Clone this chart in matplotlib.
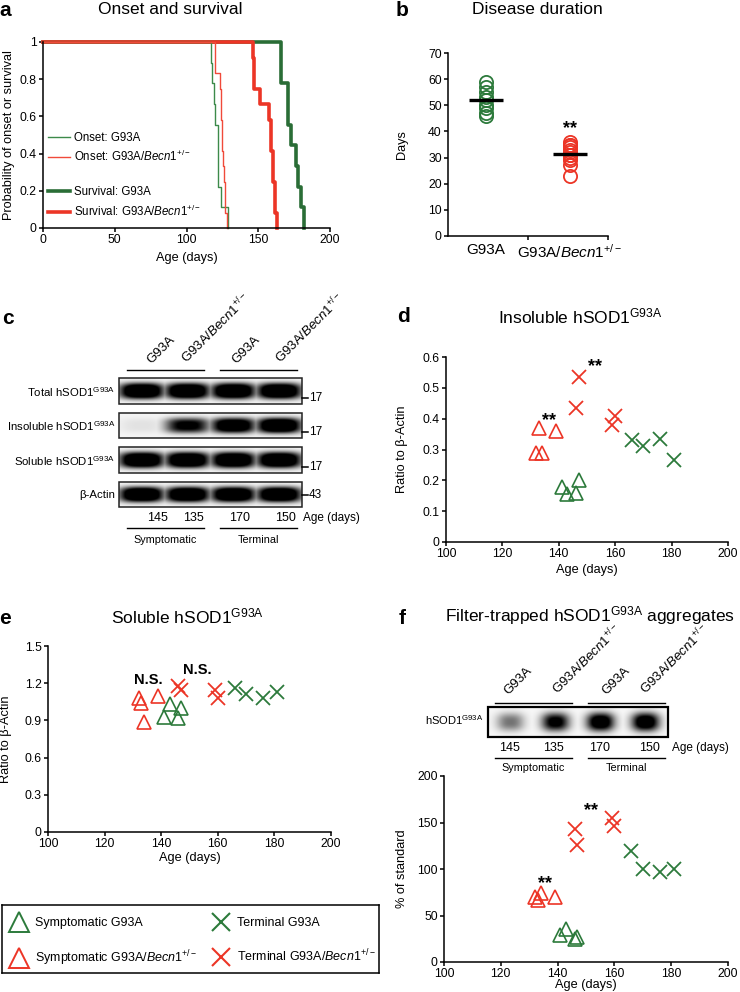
import numpy as np
import matplotlib
matplotlib.use("Agg")
import matplotlib.pyplot as plt
from matplotlib.lines import Line2D
from matplotlib.patches import Rectangle
from matplotlib.ticker import FuncFormatter

plt.rcParams["font.family"] = ["Liberation Sans", "DejaVu Sans"]
plt.rcParams["mathtext.fontset"] = "custom"
plt.rcParams["mathtext.rm"] = "Liberation Sans"
plt.rcParams["mathtext.it"] = "Liberation Sans:italic"
plt.rcParams["mathtext.bf"] = "Liberation Sans:bold"
plt.rcParams["axes.linewidth"] = 1.1
plt.rcParams["xtick.major.width"] = 1.1
plt.rcParams["ytick.major.width"] = 1.1
plt.rcParams["xtick.minor.width"] = 1.1
plt.rcParams["xtick.major.size"] = 3
plt.rcParams["ytick.major.size"] = 3
plt.rcParams["xtick.labelsize"] = 8.8
plt.rcParams["ytick.labelsize"] = 8.8
plt.rcParams["axes.labelsize"] = 9.2

GREEN = "#2c7a3b"
RED = "#ec3526"
BECN = r"G93A/$\mathit{Becn1}^{+/-}$"
SOD = r"hSOD1$^{\mathrm{G93A}}$"

# ---- data ----
# a: age (days) at onset / end stage, one value per mouse
onset_g93a = [117, 118, 119, 120, 122, 122, 122, 124, 129]
onset_becn = [120, 120, 123, 124, 124, 124.5, 125, 125.5, 126, 126.5, 127, 128]
surv_g93a = [166, 166, 171, 171, 173, 176, 178, 180, 182]
surv_becn = [146, 147, 147, 151, 157.5, 159, 159, 160.5, 160.5, 162, 162, 163]

# b: disease duration (days)
dur_g93a = [46, 47, 49, 50, 52, 53, 55, 57, 59]
dur_becn = [23, 27, 29, 30, 31, 31, 32, 33, 34, 35, 35, 36]
dur_groups = ["G93A", BECN]

# d-f: ages of the analysed mice
age_sym_g93a = [141, 143, 146, 147]
age_sym_becn = [132, 133, 134, 139]
age_term_g93a = [166, 170, 176, 181]
age_term_becn = [146, 147, 159, 160]

# d: insoluble hSOD1 / actin
ins_sym_g93a = [0.18, 0.155, 0.16, 0.20]
ins_sym_becn = [0.29, 0.37, 0.29, 0.36]
ins_term_g93a = [0.33, 0.31, 0.335, 0.265]
ins_term_becn = [0.435, 0.535, 0.38, 0.41]

# e: soluble hSOD1 / actin
sol_sym_g93a = [0.93, 1.03, 0.92, 1.0]
sol_sym_becn = [1.08, 1.04, 0.89, 1.10]
sol_term_g93a = [1.165, 1.11, 1.08, 1.13]
sol_term_becn = [1.18, 1.145, 1.145, 1.08]

# f: filter trap, % of standard
ft_sym_g93a = [29, 35, 25, 26.5]
ft_sym_becn = [70, 67, 74, 70]
ft_term_g93a = [119, 100, 97, 100]
ft_term_becn = [143, 126, 155, 146]

# blots
lane_genotypes = ["G93A", BECN, "G93A", BECN]
lane_ages = ["145", "135", "170", "150"]
lane_groups = ["Symptomatic", "Terminal"]
blot_rows = ["Total " + SOD, "Insoluble " + SOD, "Soluble " + SOD, "β-Actin"]
blot_mw = ["17", "17", "17", "43"]
blot_levels = [[1.0, 1.0, 1.0, 1.0],
               [0.05, 0.7, 0.9, 1.0],
               [1.0, 1.0, 1.0, 1.0],
               [1.0, 1.0, 1.0, 1.0]]
filter_levels = [0.4, 0.85, 1.0, 1.0]

W, H = 740, 992
fig = plt.figure(figsize=(W / 100, H / 100), dpi=100)
ov = fig.add_axes([0, 0, 1, 1])
ov.set_zorder(-1)
ov.axis("off")

fmt = FuncFormatter(lambda v, _: f"{v:g}")


def box(x0, y0, x1, y1):
    return [x0 / W, 1 - y1 / H, (x1 - x0) / W, (y1 - y0) / H]


def style(ax):
    ax.spines["top"].set_visible(False)
    ax.spines["right"].set_visible(False)
    ax.tick_params(direction="out", pad=1.5)
    ax.yaxis.set_major_formatter(fmt)


def labels(ax, xl, xy, yl, yx):
    if xl:
        ax.set_xlabel(xl)
        ax.xaxis.set_label_coords(0.5, xy)
        ax.xaxis.label.set_va("center")
    ax.set_ylabel(yl)
    ax.yaxis.set_label_coords(yx, 0.5)
    ax.yaxis.label.set_va("center")


def km(ax, days, color, lw):
    t = np.sort(days)
    n = len(t)
    x = np.concatenate([[0], t])
    y = np.concatenate([[1], 1 - np.arange(1, n + 1) / n])
    return ax.step(x, y, where="post", color=color, lw=lw, clip_on=False)[0]


def band_img(levels, w, h, sx, sy, p, gain, bg):
    xs = (np.arange(w) + 0.5) / w
    ys = (np.arange(h) + 0.5) / h
    X, Y = np.meshgrid(xs, ys)
    img = np.zeros((h, w))
    n = len(levels)
    for i, v in enumerate(levels):
        cx = (i + 0.5) / n
        img = np.maximum(img, v * np.exp(-np.abs((X - cx) / sx) ** p - np.abs((Y - 0.5) / sy) ** p))
    return np.clip(bg + gain * img, 0, 1)


# ---- a ----
ax = fig.add_axes(box(43, 42, 330, 228))
style(ax)
h_sg = km(ax, surv_g93a, "#2a6d36", 2.6)
h_sb = km(ax, surv_becn, RED, 2.6)
h_og = km(ax, onset_g93a, "#3c8a4a", 1.0)
h_ob = km(ax, onset_becn, "#f04a3a", 1.0)
ax.set_xlim(0, 200)
ax.set_ylim(0, 1)
ax.set_xticks([0, 50, 100, 150, 200])
ax.set_yticks([0, 0.2, 0.4, 0.6, 0.8, 1])
labels(ax, "Age (days)", -0.16, "Probability of onset or survival", -0.12)
blank = Line2D([], [], color="none")
ax.legend([h_og, h_ob, blank, h_sg, h_sb],
          ["Onset: G93A", "Onset: " + BECN, " ", "Survival: G93A", "Survival: " + BECN],
          loc="lower left", bbox_to_anchor=(0.017, 0.05), frameon=False, fontsize=8.3,
          handlelength=1.9, handletextpad=0.35, labelspacing=0.45, borderaxespad=0, borderpad=0)

# ---- b ----
axb = fig.add_axes(box(448, 53, 608, 236))
style(axb)
axb.plot(np.full(len(dur_g93a), 1), dur_g93a, "o", mfc="none", mec=GREEN, ms=9.5, mew=1.3)
axb.plot(np.full(len(dur_becn), 2), dur_becn, "o", mfc="none", mec=RED, ms=9.5, mew=1.3)
axb.hlines([np.mean(dur_g93a), np.mean(dur_becn)], [0.8, 1.8], [1.2, 2.2], color="black", lw=2.4, zorder=5)
axb.text(2, np.max(dur_becn) + 2, "**", ha="center", va="bottom", fontsize=13, fontweight="bold")
axb.set_xlim(0.55, 2.45)
axb.set_ylim(0, 70)
axb.set_yticks(range(0, 71, 10))
axb.set_xticks([1, 2])
axb.set_xticklabels(dur_groups, fontsize=11)
axb.set_xticks([1.5, 2.45], minor=True)
axb.tick_params(axis="x", which="major", length=0, pad=5)
axb.tick_params(axis="x", which="minor", length=3, direction="out")
labels(axb, None, 0, "Days", -0.29)


def scatter_panel(ax, sg, sb, tg, tb):
    ax.plot(age_sym_becn, sb, "^", mfc="none", mec=RED, ms=10, mew=1.2, ls="none")
    ax.plot(age_sym_g93a, sg, "^", mfc="none", mec=GREEN, ms=10, mew=1.2, ls="none")
    ax.plot(age_term_becn, tb, "x", color=RED, ms=10, mew=1.3, ls="none")
    ax.plot(age_term_g93a, tg, "x", color=GREEN, ms=10, mew=1.3, ls="none")
    ax.set_xlim(100, 200)
    ax.set_xticks(range(100, 201, 20))


# ---- d ----
axd = fig.add_axes(box(446, 357, 728, 542))
style(axd)
scatter_panel(axd, ins_sym_g93a, ins_sym_becn, ins_term_g93a, ins_term_becn)
axd.set_ylim(0, 0.6)
axd.set_yticks(np.arange(0, 0.61, 0.1))
axd.text(136.5, 0.395, "**", ha="center", va="center", fontsize=13, fontweight="bold")
axd.text(153, 0.57, "**", ha="center", va="center", fontsize=13, fontweight="bold")
labels(axd, "Age (days)", -0.15, "Ratio to β-Actin", -0.156)

# ---- e ----
axe = fig.add_axes(box(48, 646, 331, 832))
style(axe)
scatter_panel(axe, sol_sym_g93a, sol_sym_becn, sol_term_g93a, sol_term_becn)
axe.set_ylim(0, 1.5)
axe.set_yticks(np.arange(0, 1.51, 0.3))
axe.text(135.5, 1.225, "N.S.", ha="center", va="center", fontsize=10.5, fontweight="bold")
axe.text(152.8, 1.31, "N.S.", ha="center", va="center", fontsize=10.5, fontweight="bold")
labels(axe, "Age (days)", -0.142, "Ratio to β-Actin", -0.148)

# ---- f ----
axf = fig.add_axes(box(444, 776, 728, 962))
style(axf)
scatter_panel(axf, ft_sym_g93a, ft_sym_becn, ft_term_g93a, ft_term_becn)
axf.set_ylim(0, 200)
axf.set_yticks(range(0, 201, 50))
axf.text(135.4, 84, "**", ha="center", va="center", fontsize=13, fontweight="bold")
axf.text(151.7, 163, "**", ha="center", va="center", fontsize=13, fontweight="bold")
labels(axf, "Age (days)", -0.125, "% of standard", -0.148)

# ---- shared legend ----
axl = fig.add_axes(box(2, 905, 379, 973))
axl.set_xticks([])
axl.set_yticks([])
for s in axl.spines.values():
    s.set_linewidth(1.1)
hl = [Line2D([], [], marker="^", mfc="none", mec=GREEN, ms=14, mew=1.4, ls="none"),
      Line2D([], [], marker="^", mfc="none", mec=RED, ms=14, mew=1.4, ls="none"),
      Line2D([], [], marker="x", color=GREEN, ms=13, mew=1.5, ls="none"),
      Line2D([], [], marker="x", color=RED, ms=13, mew=1.5, ls="none")]
axl.legend(hl, ["Symptomatic G93A", "Symptomatic " + BECN, "Terminal G93A", "Terminal " + BECN],
           ncol=2, loc="center left", bbox_to_anchor=(0.01, 0.45), frameon=False, fontsize=9,
           handlelength=1.3, handletextpad=0.6, columnspacing=1.3, labelspacing=1.5,
           borderaxespad=0)

# ---- panel titles and letters ----
titles = [(170, 10, "Onset and survival"), (537, 10, "Disease duration"),
          (580, 316, "Insoluble " + SOD), (187, 616, "Soluble " + SOD),
          (590, 616, "Filter-trapped " + SOD + " aggregates")]
for x, y, s in titles:
    ov.text(x, y, s, ha="center", va="center", fontsize=12.5)
for x, y, s in [(5, 11, "a"), (402, 10, "b"), (8, 319, "c"), (403, 317, "d"), (5, 619, "e"), (402, 619, "f")]:
    ov.text(x, y, s, ha="center", va="center", fontsize=15, fontweight="bold")

# ---- c: western blot ----
bx0, bx1 = 119, 302
row_y = [(378, 404), (413, 438), (447, 473), (482, 507)]
for (y0, y1), name, mw, lev in zip(row_y, blot_rows, blot_mw, blot_levels):
    img = band_img(lev, (bx1 - bx0) * 3, (y1 - y0) * 3, 0.12, 0.3, 3, 1.5, 0.04)
    ov.imshow(img, cmap="gray_r", vmin=0, vmax=1, extent=(bx0, bx1, y1, y0), aspect="auto",
              interpolation="bilinear")
    ov.add_patch(Rectangle((bx0, y0), bx1 - bx0, y1 - y0, fill=False, lw=1.1, ec="#222222"))
    ov.text(115, (y0 + y1) / 2 + 1, name, ha="right", va="center", fontsize=8.2)
    my = y1 - 6 if mw == "17" else (y0 + y1) / 2
    ov.plot([bx1, bx1 + 6], [my, my], color="black", lw=1.1)
    ov.text(bx1 + 7, my, mw, ha="left", va="center", fontsize=8.5)
c_label_x = [153, 189, 238, 283]
c_age_x = [158, 193, 240, 285]
for g, a, lx, axx in zip(lane_genotypes, lane_ages, c_label_x, c_age_x):
    ov.text(lx, 366, g, rotation=45, ha="left", va="bottom", rotation_mode="anchor", fontsize=9.5)
    ov.text(axx, 518, a, ha="center", va="center", fontsize=9)
ov.text(303, 518, "Age (days)", ha="left", va="center", fontsize=8.5)
for (x0, x1), grp in zip([(127, 204), (220, 297)], lane_groups):
    ov.plot([x0, x1], [370, 370], color="black", lw=1)
    ov.plot([x0, x1], [528, 528], color="black", lw=1)
    ov.text((x0 + x1) / 2, 540, grp, ha="center", va="center", fontsize=7.8)

# ---- f: filter trap ----
fx0, fx1, fy0, fy1 = 488, 668, 707, 737
img = band_img(filter_levels, (fx1 - fx0) * 3, (fy1 - fy0) * 3, 0.075, 0.3, 2.5, 1.3, 0.03)
ov.imshow(img, cmap="gray_r", vmin=0, vmax=1, extent=(fx0, fx1, fy1, fy0), aspect="auto",
          interpolation="bilinear")
ov.add_patch(Rectangle((fx0, fy0), fx1 - fx0, fy1 - fy0, fill=False, lw=1.6, ec="black"))
ov.text(483, 720, SOD, ha="right", va="center", fontsize=8)
f_label_x = [510, 560, 608, 648]
f_age_x = [510, 553, 600, 650]
for g, a, lx, axx in zip(lane_genotypes, lane_ages, f_label_x, f_age_x):
    ov.text(lx, 697, g, rotation=45, ha="left", va="bottom", rotation_mode="anchor", fontsize=9.5)
    ov.text(axx, 748, a, ha="center", va="center", fontsize=9)
ov.text(672, 748, "Age (days)", ha="left", va="center", fontsize=8.5)
for (x0, x1), grp in zip([(495, 572), (588, 665)], lane_groups):
    ov.plot([x0, x1], [703, 703], color="black", lw=1)
    ov.plot([x0, x1], [758, 758], color="black", lw=1)
    ov.text((x0 + x1) / 2, 768, grp, ha="center", va="center", fontsize=7.8)

ov.set_xlim(0, W)
ov.set_ylim(H, 0)

fig.savefig("out.png", dpi=100)
